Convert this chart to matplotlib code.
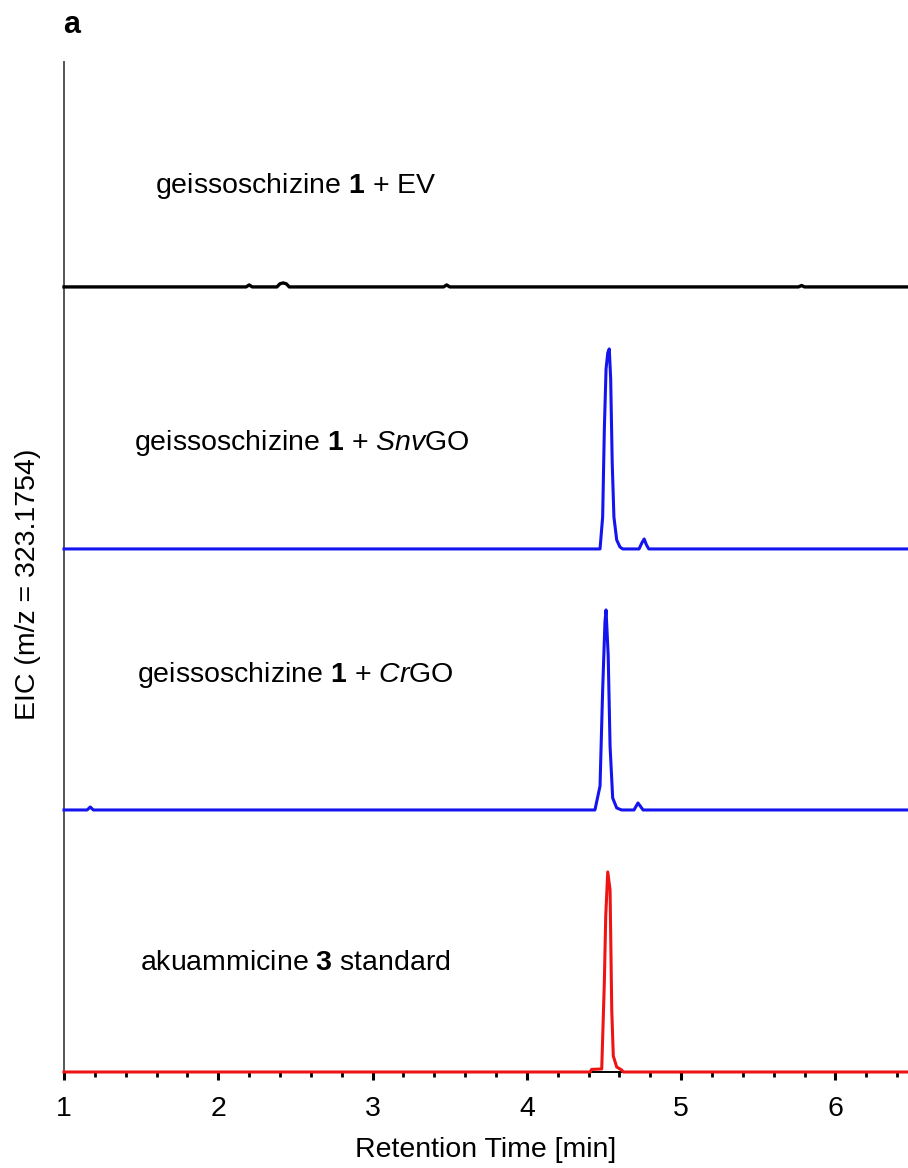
import numpy as np
import matplotlib
matplotlib.use("Agg")
import matplotlib.pyplot as plt
from matplotlib.ticker import MultipleLocator

plt.rcParams['font.family'] = ['Liberation Sans', 'DejaVu Sans']
plt.rcParams['mathtext.fontset'] = 'custom'
plt.rcParams['mathtext.rm'] = 'Liberation Sans'
plt.rcParams['mathtext.bf'] = 'Liberation Sans:bold'
plt.rcParams['mathtext.it'] = 'Liberation Sans:italic'

# traces: retention time (min) and relative intensity (%)
ev_time = [1.0, 2.18, 2.20, 2.22, 2.38, 2.40, 2.42, 2.44, 2.46, 3.46, 3.48, 3.50, 5.76, 5.78, 5.80, 6.5]
ev_int = [0, 0, 1.0, 0, 0, 1.6, 2.0, 1.6, 0, 0, 1.0, 0, 0, 0.7, 0, 0]

snv_time = [1.0, 4.474, 4.491, 4.502, 4.513, 4.524, 4.534, 4.543, 4.553, 4.564, 4.582, 4.603, 4.621,
            4.727, 4.745, 4.76, 4.775, 4.79, 6.5]
snv_int = [0, 0, 16, 60, 90, 98, 100, 85, 43, 16, 4.5, 1, 0, 0, 3, 5, 2, 0, 0]

cr_time = [1.0, 1.15, 1.17, 1.19, 4.441, 4.474, 4.491, 4.506, 4.513, 4.527, 4.539, 4.556, 4.582, 4.614,
           4.694, 4.72, 4.753, 6.5]
cr_int = [0, 0, 1.5, 0, 0, 12, 60, 94, 100, 77, 32, 6, 1, 0, 0, 3.5, 0, 0]

std_time = [1.0, 4.41, 4.42, 4.485, 4.502, 4.511, 4.524, 4.539, 4.550, 4.560, 4.582, 4.614, 4.625, 6.5]
std_int = [0, 0, 1.3, 1.5, 45, 78, 100, 91, 31, 8, 2.5, 1, 0, 0]

labels = [r"geissoschizine $\mathbf{1}$ + EV",
          r"geissoschizine $\mathbf{1}$ + $\mathit{Snv}$GO",
          r"geissoschizine $\mathbf{1}$ + $\mathit{Cr}$GO",
          r"akuammicine $\mathbf{3}$ standard"]

traces = [(ev_time, ev_int, "black", 392.5, 2.4),
          (snv_time, snv_int, "#1414ee", 261.5, 2.2),
          (cr_time, cr_int, "#1414ee", 131, 2.2),
          (std_time, std_int, "#ee1414", 0, 2.2)]
label_pos = [(2.50, 443), (2.54, 314.5), (2.50, 198.5), (2.50, 54.5)]

fig = plt.figure(figsize=(9.08, 11.68), dpi=100)
ax = fig.add_axes([0.0705, 0.0822, 0.9295, 0.8648])

for (t, y, c, off, lw), lab, (lx, ly) in zip(traces, labels, label_pos):
    ax.plot(t, np.array(y) + off, color=c, lw=lw, clip_on=False, zorder=3,
            solid_joinstyle="round")
    ax.text(lx, ly, lab, fontsize=20.5, ha="center", va="center")

ax.set_xlim(1, 6.47)
ax.set_ylim(0, 505)
ax.xaxis.set_major_locator(MultipleLocator(1))
ax.xaxis.set_minor_locator(MultipleLocator(0.2))
ax.tick_params(axis="x", which="major", length=6, width=2.2, labelsize=20.5, pad=11)
ax.tick_params(axis="x", which="minor", length=3.8, width=2)
ax.set_yticks([])
ax.spines["top"].set_visible(False)
ax.spines["right"].set_visible(False)
ax.spines["left"].set_color("#555555")
ax.spines["left"].set_linewidth(1.4)
ax.spines["bottom"].set_linewidth(1.4)

ax.set_xlabel("Retention Time [min]", fontsize=20.5, labelpad=11)
ax.set_ylabel("EIC (m/z = 323.1754)", fontsize=20.5)
ax.yaxis.set_label_coords(-0.027, 0.483)
fig.text(72 / 908, 1 - 25 / 1168, "a", fontsize=22, fontweight="bold", ha="center", va="center")

fig.savefig("out.png", dpi=100)
